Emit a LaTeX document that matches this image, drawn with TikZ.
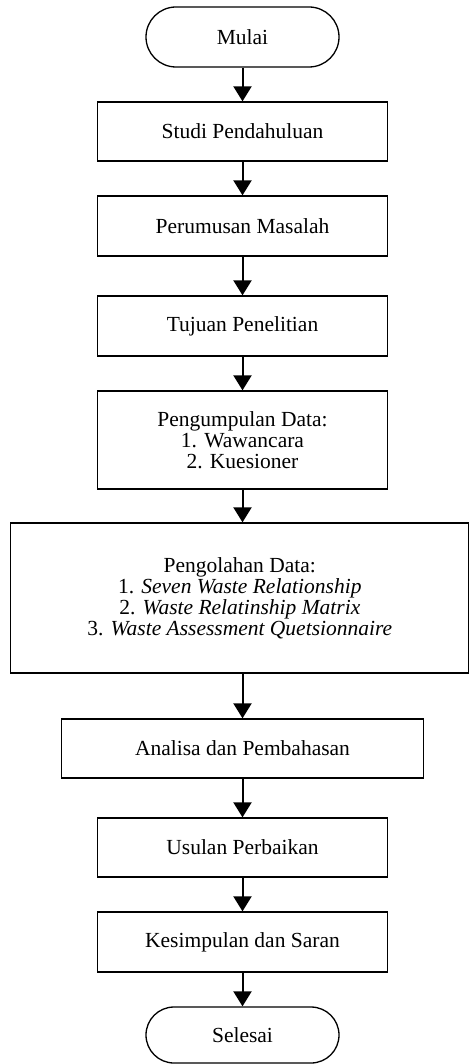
\documentclass[tikz,border=0pt]{standalone}
\usepackage{fontspec}
\setmainfont{Liberation Serif}
\usetikzlibrary{arrows.meta,shapes.misc}
\begin{document}
\begin{tikzpicture}[x=1pt,y=-1pt,
  every node/.style={font=\fontsize{21.5}{21}\selectfont, align=center, inner sep=0pt},
  procbox/.style={draw, line width=1.3pt, rectangle, minimum width=290pt, minimum height=59pt},
  term/.style={draw, line width=1.3pt, rounded rectangle, minimum width=193pt, minimum height=60pt},
  flow/.style={line width=2pt, -{Triangle[width=18pt,length=15pt]}}]
\useasboundingbox (0,0) rectangle (470,1064);
\node[term] (mulai) at (242.5,37) {Mulai};
\node[procbox] (studi) at (242.5,131.5) {Studi Pendahuluan};
\node[procbox, minimum height=60pt] (rumus) at (242.5,226) {Perumusan Masalah};
\node[procbox, minimum height=60pt] (tujuan) at (242.5,326) {Tujuan Penelitian};
\node[procbox, minimum height=98pt] (kumpul) at (242.5,440) {Pengumpulan Data:\\1. Wawancara\\2. Kuesioner};
\node[procbox, minimum width=458pt, minimum height=150pt] (olah) at (239.8,598) {Pengolahan Data:\\1. \textit{Seven Waste Relationship}\\2. \textit{Waste Relatinship Matrix}\\3. \textit{Waste Assessment Quetsionnaire}};
\node[procbox, minimum width=362pt] (analisa) at (242.5,748.5) {Analisa dan Pembahasan};
\node[procbox] (usulan) at (242.5,847.5) {Usulan Perbaikan};
\node[procbox, minimum height=60pt] (simpul) at (242.5,942) {Kesimpulan dan Saran};
\node[term, minimum height=56pt] (selesai) at (242.5,1035) {Selesai};
\draw[flow] (mulai.south) -- (studi.north);
\draw[flow] (studi.south) -- (rumus.north);
\draw[flow] (rumus.south) -- (tujuan.north);
\draw[flow] (tujuan.south) -- (kumpul.north);
\draw[flow] (kumpul.south) -- (kumpul.south |- olah.north);
\draw[flow] (kumpul.south |- olah.south) -- (analisa.north);
\draw[flow] (analisa.south) -- (usulan.north);
\draw[flow] (usulan.south) -- (simpul.north);
\draw[flow] (simpul.south) -- (selesai.north);
\end{tikzpicture}
\end{document}
